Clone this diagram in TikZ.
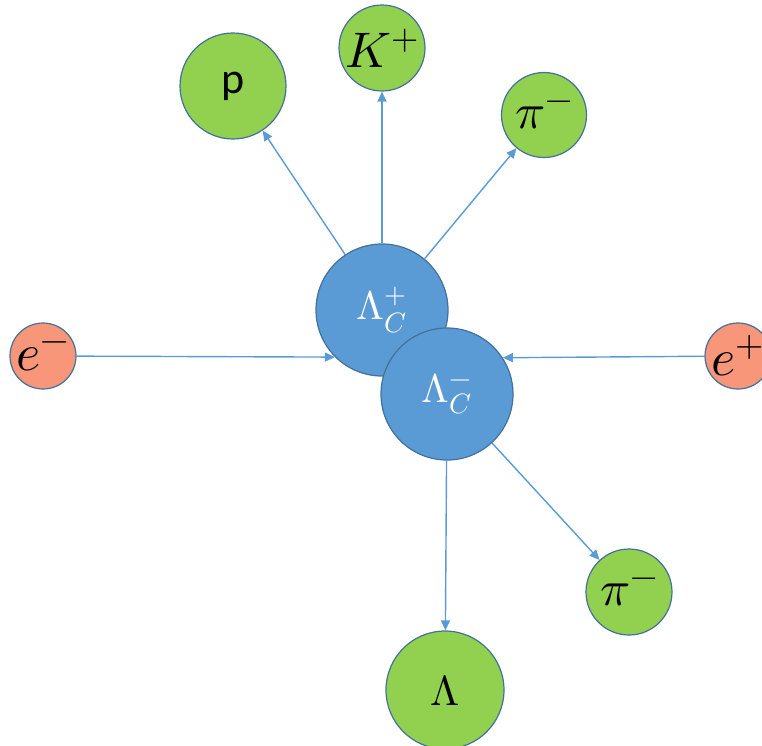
\documentclass[tikz,border=0pt]{standalone}
\usepackage{fontspec}
\usepackage{unicode-math}
\newfontfamily\calibri{Carlito}
\usetikzlibrary{arrows.meta}
\definecolor{lamblue}{RGB}{91,155,213}
\definecolor{rimblue}{RGB}{65,113,156}
\definecolor{prodgreen}{RGB}{146,208,80}
\definecolor{beamsalmon}{RGB}{247,150,121}
\newcommand{\inball}[1]{\makebox[0pt]{#1}}

\begin{document}
\begin{tikzpicture}[x=1pt,y=-1pt,
  part/.style={circle,draw=rimblue,line width=1.2pt,inner sep=0pt},
  hadron/.style={part,fill=lamblue,text=white,minimum size=132pt,font=\fontsize{40}{46}\selectfont},
  daughter/.style={part,fill=prodgreen,font=\fontsize{50}{56}\selectfont},
  beam/.style={part,fill=beamsalmon,minimum size=66pt,font=\fontsize{52}{58}\selectfont},
  flow/.style={draw=lamblue,line width=1.4pt,-{Triangle[length=10pt,width=9pt]}}]
  \useasboundingbox (0,0) rectangle (762,745);

  % beams
  \node[beam] (em) at (43,356) {\inball{$e^-$}};
  \node[beam] (ep) at (738,356) {\inball{$e^+$}};

  % charmed baryon pair
  \node[hadron] (lcp) at (382,310) {\inball{$\Lambda_C^+$}};
  \node[hadron] (lcm) at (447,394) {\inball{$\Lambda_C^-$}};

  % decay products
  \node[daughter,minimum size=106pt,font=\fontsize{44}{50}\selectfont] (p) at (233,86) {\calibri p};
  \node[daughter,minimum size=86pt] (kp) at (382,48) {\inball{$K^+$}};
  \node[daughter,minimum size=85pt] (pim1) at (544,115) {\inball{$\pi^-$}};
  \node[daughter,minimum size=86pt] (pim2) at (629,592) {\inball{$\pi^-$}};
  \node[daughter,minimum size=118pt,font=\fontsize{42}{48}\selectfont] (lam) at (445,690) {\inball{$\Lambda$}};

  \draw[flow] (em) -- (lcp.south west);
  \draw[flow] (ep) -- (lcm.33);
  \draw[flow] (lcp) -- (p);
  \draw[flow] (lcp) -- (kp);
  \draw[flow] (lcp) -- (pim1);
  \draw[flow] (lcm) -- (lam);
  \draw[flow] (lcm) -- (pim2);
\end{tikzpicture}
\end{document}
